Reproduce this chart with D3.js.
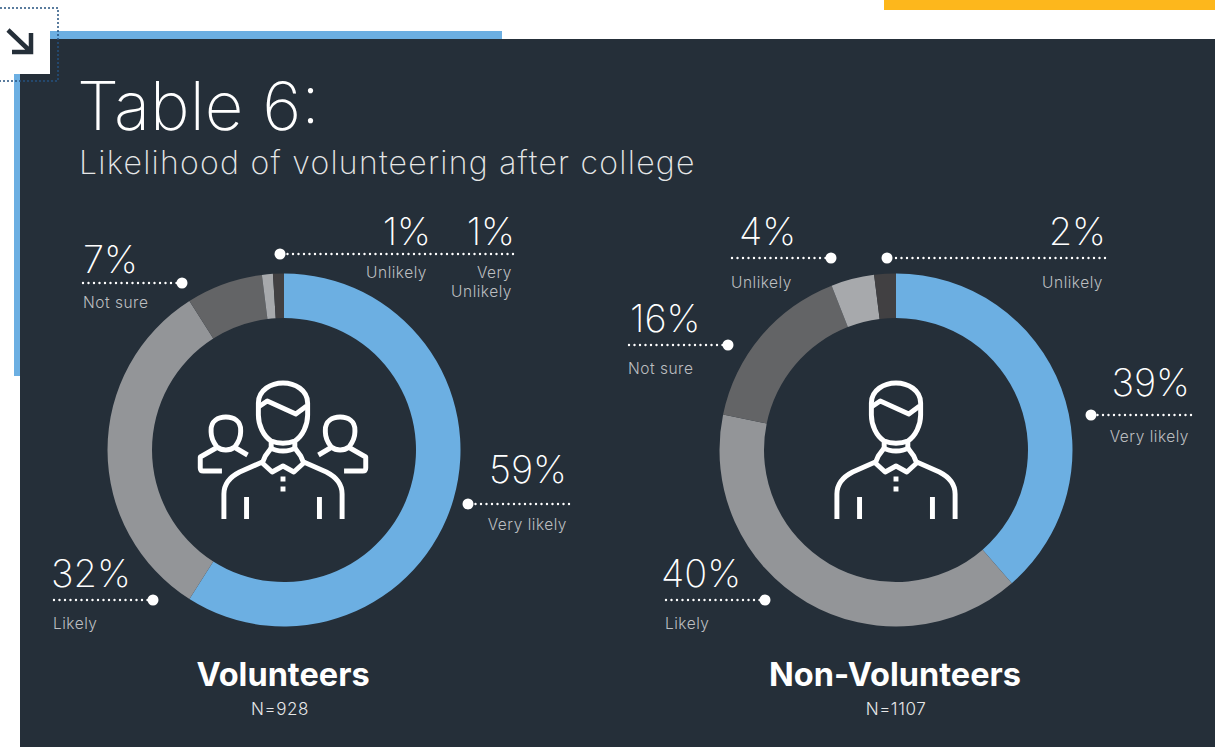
<!DOCTYPE html>
<html><head><meta charset="utf-8">
<script src="https://cdn.jsdelivr.net/npm/d3@7/dist/d3.min.js"></script>
<style>
html,body{margin:0;padding:0;background:#fff;overflow:hidden}
svg{display:block}
text{font-family:Inter,"Noto Sans",sans-serif}
</style></head><body>
<svg id="chart" width="1215" height="747"></svg>
<script>
const categories = ["Very likely","Likely","Not sure","Unlikely","Very Unlikely"];
const volunteers = [59,32,7,1,1];
const nonVolunteers = [39,40,16,4,2];
const groupNames = ["Volunteers","Non-Volunteers"];
const groupNs = ["N=928","N=1107"];
const sliceColors = ["#6cafe2","#939598","#636466","#a7a9ac","#414042"];

const svg = d3.select("#chart");
const panel = "#252f39";
// frame
const rect=(x,y,w,h,f)=>svg.append("rect").attr("x",x).attr("y",y).attr("width",w).attr("height",h).attr("fill",f);
rect(884,0,331,10,"#fdb71c");
rect(50,31,452,8,"#6cafe2");
rect(14,74,6,302,"#6cafe2");
rect(20,39,1195,708,panel);
rect(0,0,50,74,"#fff");
svg.append("path").attr("d","M0,8H58V81H0").attr("fill","none").attr("stroke","#24527f").attr("stroke-width",1.5).attr("stroke-dasharray","2 2");
svg.append("path").attr("d","M8,30L31,52M12,52H31V33").attr("fill","none").attr("stroke",panel).attr("stroke-width",4.5);

svg.append("text").text("Table 6:").attr("x",77).attr("y",130).attr("fill","#fff").attr("font-size",67).attr("font-weight",200);
svg.append("text").text("Likelihood of volunteering after college").attr("x",79).attr("y",174).attr("fill","#e6e7e8").attr("font-size",32).attr("font-weight",200).attr("letter-spacing",1.25);

// donuts
const centers = [284,896];
const pie = d3.pie().sort(null).value(d=>d);
const arc = d3.arc().innerRadius(132).outerRadius(176.5);
[volunteers,nonVolunteers].forEach((vals,g)=>{
  const G = svg.append("g").attr("transform",`translate(${centers[g]},450)`);
  G.selectAll("path").data(pie(vals)).join("path").attr("d",arc).attr("fill",(d,i)=>sliceColors[i]);
  svg.append("text").text(groupNames[g]).attr("x",centers[g]-1).attr("y",686).attr("text-anchor","middle").attr("fill","#fff").attr("font-size",32.5).attr("font-weight",700);
  svg.append("text").text(groupNs[g]).attr("x",g?centers[g]:centers[g]-4).attr("y",715).attr("text-anchor","middle").attr("fill","#e6e7e8").attr("font-size",17).attr("font-weight",300).attr("letter-spacing",0.6);
});

// icons
function person(g){
  const s=g.append("g").attr("fill","none").attr("stroke","#fff").attr("stroke-width",5).attr("stroke-linejoin","round");
  s.append("path").attr("d","M-12,-9C-20,-14 -25,-25 -25,-35L-25,-47C-25,-60 -12,-67 0,-67C12,-67 25,-60 25,-47L25,-35C25,-25 20,-14 12,-9C5,-6 -5,-6 -12,-9Z");
  s.append("path").attr("d","M-25,-43L-16,-49L13,-36L24,-44");
  s.append("path").attr("d","M-12,-9V-2C-6,2 6,2 12,-2V-9");
  s.append("path").attr("d","M-12,-2L-18,6L-21,13L-11,22L0,16L11,22L21,13L18,6L12,-2");
  s.append("path").attr("d","M-21,12L-44,22C-54,27 -60,34 -60,44V69");
  s.append("path").attr("d","M21,12L44,22C54,27 60,34 60,44V69");
  s.append("path").attr("d","M-37,47V69M37,47V69");
  s.append("path").attr("d","M0,26.500V31.500M0,36.500V41.500");
}
function sidePerson(g,m){
  const s=g.append("g").attr("transform",`scale(${m},1)`).attr("fill","none").attr("stroke","#fff").attr("stroke-width",5).attr("stroke-linejoin","round");
  s.append("path").attr("d","M-67,-3C-71,-8 -73,-13 -73,-18V-20C-73,-29 -66,-33 -58,-33C-50,-33 -43,-29 -43,-20V-18C-43,-13 -45,-8 -49,-3C-54,1 -62,1 -67,-3Z");
  s.append("path").attr("d","M-68,-2L-84,7V18Q-84,21 -81,21H-62");
  s.append("path").attr("d","M-48,-2L-36,5");
}
centers.forEach((c,g)=>{
  const I=svg.append("g").attr("transform",`translate(${g?c:c-1},450) scale(0.985,1)`);
  person(I);
  if(g===0){sidePerson(I,1);sidePerson(I,-1);}
});

// callouts: value, label lines
const callouts=[
 {v:"1%",l:["Unlikely"],a:"end",vx:431,vy:245,lx:427,ly:278},
 {v:"1%",l:["Very","Unlikely"],a:"end",vx:515,vy:245,lx:512,ly:278},
 {v:"7%",l:["Not sure"],a:"start",vx:83,vy:273,lx:83,ly:308},
 {v:"59%",l:["Very likely"],a:"end",vx:567,vy:483,lx:567,ly:530},
 {v:"32%",l:["Likely"],a:"start",vx:51,vy:587,lx:53,ly:629},
 {v:"4%",l:["Unlikely"],a:"start",vx:739,vy:245,lx:731,ly:288},
 {v:"2%",l:["Unlikely"],a:"end",vx:1106,vy:245,lx:1103,ly:288},
 {v:"16%",l:["Not sure"],a:"start",vx:630,vy:332,lx:628,ly:374},
 {v:"39%",l:["Very likely"],a:"end",vx:1190,vy:396,lx:1189,ly:442},
 {v:"40%",l:["Likely"],a:"start",vx:661,vy:587,lx:665,ly:629}
];
const leaders=[[280,513,254],[182,83,283],[468,569,504],[153,54,600],[831,732,258],[887,1105,258],[728,629,345],[1091,1191,415],[765,666,600]];
leaders.forEach(([d,e,y])=>{
  svg.append("line").attr("x1",e).attr("x2",d).attr("y1",y).attr("y2",y).attr("stroke","#fff").attr("stroke-width",2.4).attr("stroke-linecap","round").attr("stroke-dasharray","0 5.5");
  svg.append("circle").attr("cx",d).attr("cy",y).attr("r",5.5).attr("fill","#fff");
});
callouts.forEach(c=>{
  svg.append("text").text(c.v).attr("x",c.vx).attr("y",c.vy).attr("text-anchor",c.a).attr("fill","#fff").attr("font-size",38).attr("font-weight",200);
  c.l.forEach((t,i)=>svg.append("text").text(t).attr("x",c.lx).attr("y",c.ly+i*19).attr("text-anchor",c.a).attr("fill","#bcbec0").attr("font-size",15.5).attr("font-weight",300).attr("letter-spacing",0.5));
});
</script></body></html>
